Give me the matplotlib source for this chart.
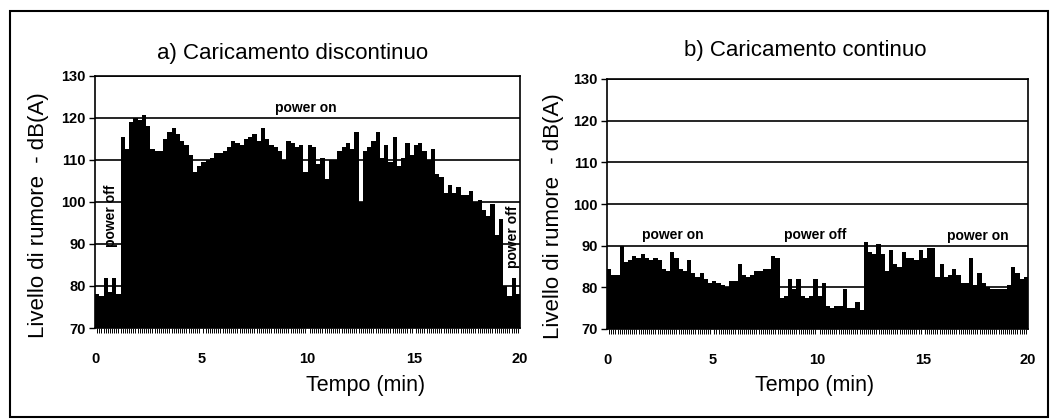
import numpy as np
import matplotlib.pyplot as plt
from matplotlib.patches import Rectangle

plt.rcParams['font.family'] = ['Liberation Sans', 'DejaVu Sans']

# Dati: livello di rumore ogni 0.2 min
passo = 0.2
rumore_discontinuo = [
    78, 77.5, 82, 78.5, 82, 78, 115.5, 112.5, 119, 120,
    119.5, 120.5, 118, 112.5, 112, 112, 115, 116.5, 117.5, 116,
    114.5, 113.5, 111, 107, 108.5, 109.5, 110, 110.5, 111.5, 111.5,
    112, 113, 114.5, 114, 113.5, 115, 115.5, 116, 114.5, 117.5,
    115, 113.5, 113, 112, 110, 114.5, 114, 113, 113.5, 107,
    113.5, 113, 109, 110.5, 105.5, 110, 110, 112, 113, 114,
    112.5, 116.5, 100, 112, 113, 114.5, 116.5, 110.5, 113.5, 109.5,
    115.5, 108.5, 110.5, 114, 111, 113.5, 114, 112, 110, 112.5,
    106.5, 106, 102, 104, 102, 103.5, 101.5, 101.5, 102.5, 100,
    100.5, 98, 96.5, 99.5, 92, 96, 80, 77.5, 82, 78,
]
rumore_continuo = [
    84.5, 83, 83, 90, 86, 86.5, 87.5, 87, 88, 87,
    86.5, 87, 86.5, 84.5, 84, 88.5, 87, 84.5, 84, 86.5,
    83.5, 82.5, 83.5, 82, 81, 81.5, 81, 80.5, 80, 81.5,
    81.5, 85.5, 83, 82.5, 83, 84, 84, 84.5, 84.5, 87.5,
    87, 77.5, 78, 82, 79.5, 82, 78, 77.5, 78, 82,
    78, 81, 75.5, 75, 75.5, 75.5, 79.5, 75, 75, 76.5,
    74.5, 91, 88.5, 88, 90.5, 88, 84, 89, 85.5, 85,
    88.5, 87, 87, 86.5, 89, 87, 89.5, 89.5, 82.5, 85.5,
    82.5, 83, 84.5, 83, 81, 81, 87, 80.5, 83.5, 81,
    80, 79.5, 79.5, 79.5, 79.5, 80.5, 85, 83.5, 82, 82.5,
]
tempo = np.arange(len(rumore_discontinuo)) * passo

titoli = ['a) Caricamento discontinuo', 'b) Caricamento continuo']
etichetta_y = 'Livello di rumore  - dB(A)'
etichetta_x = 'Tempo (min)'
# annotazioni: (testo, x, y, rotazione)
note_a = [('power on', 9.9, 122.3, 0), ('power off', 0.75, 96.6, 90), ('power off', 19.65, 91.6, 90)]
note_b = [('power on', 3.15, 92.5, 0), ('power off', 9.9, 92.5, 0), ('power on', 17.6, 92.3, 0)]

W, H = 1059, 420
fig = plt.figure(figsize=(W / 100, H / 100), dpi=100)

ax1 = fig.add_axes([95 / W, 1 - 328 / H, 425 / W, 252.5 / H])
ax2 = fig.add_axes([607 / W, 1 - 329 / H, 421 / W, 250 / H])

for ax, dati, note in [(ax1, rumore_discontinuo, note_a), (ax2, rumore_continuo, note_b)]:
    ax.bar(tempo, np.array(dati) - 70, bottom=70, width=passo, align='edge',
           color='black', edgecolor='none', zorder=2)
    ax.set_xlim(0, 20)
    ax.set_ylim(70, 130)
    ax.set_yticks(np.arange(70, 131, 10))
    ax.set_xticks([0, 5, 10, 15, 20])
    ax.set_xticks(np.arange(0, 20.01, 0.1), minor=True)
    ax.set_axisbelow(True)
    ax.yaxis.grid(True, color='black', linewidth=1.2)
    for s in ax.spines.values():
        s.set_linewidth(1.2)
        s.set_zorder(3)
    ax.tick_params(axis='y', direction='out', length=4, width=1, pad=2.5, labelsize=10.5)
    ax.tick_params(axis='x', which='major', length=0, pad=17, labelsize=10.5)
    ax.tick_params(axis='x', which='minor', direction='out', length=3.5, width=0.7, color='black')
    for lab in ax.get_xticklabels() + ax.get_yticklabels():
        lab.set_fontweight('bold')
    for testo, x, y, rot in note:
        ax.text(x, y, testo, ha='center', va='center', rotation=rot,
                fontsize=10, fontweight='bold', zorder=4)

# titoli ed etichette degli assi
fig.text(293 / W, 1 - 53 / H, titoli[0], ha='center', va='center', fontsize=16)
fig.text(805 / W, 1 - 50.5 / H, titoli[1], ha='center', va='center', fontsize=16)
fig.text(39 / W, 1 - 215 / H, etichetta_y, ha='center', va='center', rotation=90, fontsize=16)
fig.text(554 / W, 1 - 216 / H, etichetta_y, ha='center', va='center', rotation=90, fontsize=16)
fig.text(366 / W, 1 - 385 / H, etichetta_x, ha='center', va='center', fontsize=15.5)
fig.text(815 / W, 1 - 385 / H, etichetta_x, ha='center', va='center', fontsize=15.5)

# cornice esterna
fig.add_artist(Rectangle((10 / W, 3 / H), 1038 / W, 406 / H, transform=fig.transFigure,
                         fill=False, edgecolor='black', linewidth=1.5))

plt.savefig('out.png', dpi=100)
